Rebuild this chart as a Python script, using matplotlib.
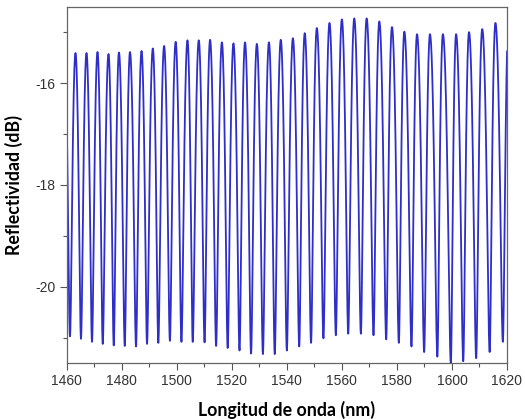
import numpy as np
import matplotlib
matplotlib.use("Agg")
import matplotlib.pyplot as plt
from matplotlib.ticker import MultipleLocator

plt.rcParams['axes.unicode_minus'] = False

# extrema (nm, dB)
peak_nm = [1459.2, 1463.2, 1467.2, 1471.2, 1475.2, 1479.0, 1483.0, 1487.2, 1491.3, 1495.4,
           1499.6, 1503.9, 1508.0, 1512.1, 1516.4, 1520.6, 1524.8, 1529.1, 1533.5,
           1537.8, 1542.2, 1546.5, 1550.9, 1555.5, 1560.0, 1564.5, 1569.0, 1573.6,
           1578.2, 1582.7, 1587.3, 1592.0, 1596.7, 1601.5, 1606.2, 1611.0, 1615.8, 1620.6]
peak_db = [-15.42, -15.41, -15.41, -15.39, -15.43, -15.40, -15.39, -15.37, -15.32, -15.27,
           -15.19, -15.16, -15.16, -15.15, -15.20, -15.22, -15.20, -15.23, -15.20,
           -15.15, -15.12, -15.02, -14.92, -14.82, -14.75, -14.73, -14.73, -14.79,
           -14.90, -14.99, -15.04, -15.04, -15.04, -15.04, -15.00, -14.94, -14.82, -14.75]
trough_nm = [1461.2, 1465.2, 1469.2, 1473.1, 1477.1, 1481.1, 1485.2, 1489.2, 1493.3,
             1497.5, 1501.7, 1505.8, 1510.1, 1514.3, 1518.5, 1522.8, 1527.0, 1531.3,
             1535.6, 1540.0, 1544.5, 1548.8, 1553.3, 1557.8, 1562.3, 1566.9, 1571.5,
             1576.1, 1580.7, 1585.3, 1589.9, 1594.7, 1599.6, 1604.1, 1608.8, 1613.7, 1618.5]
trough_db = [-20.97, -21.02, -21.08, -21.12, -21.15, -21.16, -21.17, -21.12, -21.10,
             -21.06, -21.08, -21.08, -21.09, -21.16, -21.20, -21.25, -21.31, -21.32,
             -21.32, -21.25, -21.17, -21.10, -21.01, -20.95, -20.92, -20.92, -20.95,
             -21.03, -21.10, -21.17, -21.28, -21.37, -21.50, -21.46, -21.40, -21.28, -21.08]

# alternate peak / trough and join them with smooth half-cosines (in linear power)
ext_nm, ext_db = [], []
for i in range(len(trough_nm)):
    ext_nm += [peak_nm[i], trough_nm[i]]
    ext_db += [peak_db[i], trough_db[i]]
ext_nm.append(peak_nm[-1])
ext_db.append(peak_db[-1])

wl, refl = [], []
for i in range(len(ext_nm) - 1):
    s = np.linspace(0, 1, 40, endpoint=False)
    a = 10 ** (ext_db[i] / 10)
    b = 10 ** (ext_db[i + 1] / 10)
    lin = b + (a - b) * (1 + np.cos(np.pi * s)) / 2
    wl.append(ext_nm[i] + s * (ext_nm[i + 1] - ext_nm[i]))
    refl.append(10 * np.log10(lin))
wl = np.concatenate(wl)
refl = np.concatenate(refl)

fig = plt.figure(figsize=(5.25, 4.19), dpi=100)
ax = fig.add_axes([0.127, 0.133, 0.8387, 0.851])
ax.plot(wl, refl, color='#2e2ec8', lw=1.3)

ax.set_xlim(1460, 1620)
ax.set_ylim(-21.5, -14.5)
ax.xaxis.set_major_locator(MultipleLocator(20))
ax.xaxis.set_minor_locator(MultipleLocator(10))
ax.yaxis.set_major_locator(MultipleLocator(2))
ax.yaxis.set_minor_locator(MultipleLocator(1))
ax.tick_params(which='both', direction='out', color='#555555', top=False, right=False,
               labelsize=10, labelcolor='#333333')
ax.tick_params(which='major', length=5, width=0.8, pad=3)
ax.tick_params(which='minor', length=3, width=0.8)
for sp in ax.spines.values():
    sp.set_color('#666666')
    sp.set_linewidth(0.9)

for lab in ax.get_xticklabels() + ax.get_yticklabels():
    lab.set_family('Liberation Sans')

ax.set_xlabel('Longitud de onda (nm)', family='Lato', fontweight='bold', fontsize=12.8, labelpad=9)
ax.set_ylabel('Reflectividad (dB)', family='Lato', fontweight='bold', fontsize=12.8, labelpad=9)

fig.savefig('out.png', dpi=100)
